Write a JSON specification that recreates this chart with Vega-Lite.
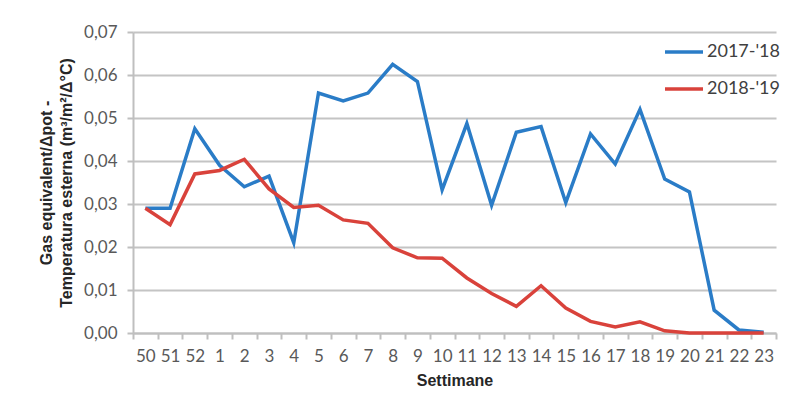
{
  "$schema": "https://vega.github.io/schema/vega-lite/v6.json",
  "autosize": {"type": "none"},
  "width": 643,
  "height": 301,
  "padding": {"left": 133, "top": 32, "right": 24, "bottom": 73},
  "background": "white",
  "data": {
    "values": [
      {"week": "50", "season": "2017-'18", "value": 0.0290},
      {"week": "51", "season": "2017-'18", "value": 0.0290},
      {"week": "52", "season": "2017-'18", "value": 0.0475},
      {"week": "1", "season": "2017-'18", "value": 0.0390},
      {"week": "2", "season": "2017-'18", "value": 0.0340},
      {"week": "3", "season": "2017-'18", "value": 0.0365},
      {"week": "4", "season": "2017-'18", "value": 0.0210},
      {"week": "5", "season": "2017-'18", "value": 0.0558},
      {"week": "6", "season": "2017-'18", "value": 0.0540},
      {"week": "7", "season": "2017-'18", "value": 0.0558},
      {"week": "8", "season": "2017-'18", "value": 0.0625},
      {"week": "9", "season": "2017-'18", "value": 0.0585},
      {"week": "10", "season": "2017-'18", "value": 0.0333},
      {"week": "11", "season": "2017-'18", "value": 0.0487},
      {"week": "12", "season": "2017-'18", "value": 0.0297},
      {"week": "13", "season": "2017-'18", "value": 0.0467},
      {"week": "14", "season": "2017-'18", "value": 0.0480},
      {"week": "15", "season": "2017-'18", "value": 0.0303},
      {"week": "16", "season": "2017-'18", "value": 0.0463},
      {"week": "17", "season": "2017-'18", "value": 0.0393},
      {"week": "18", "season": "2017-'18", "value": 0.0520},
      {"week": "19", "season": "2017-'18", "value": 0.0358},
      {"week": "20", "season": "2017-'18", "value": 0.0328},
      {"week": "21", "season": "2017-'18", "value": 0.0053},
      {"week": "22", "season": "2017-'18", "value": 0.0007},
      {"week": "23", "season": "2017-'18", "value": 0.0002},
      {"week": "50", "season": "2018-'19", "value": 0.0290},
      {"week": "51", "season": "2018-'19", "value": 0.0252},
      {"week": "52", "season": "2018-'19", "value": 0.0370},
      {"week": "1", "season": "2018-'19", "value": 0.0378},
      {"week": "2", "season": "2018-'19", "value": 0.0404},
      {"week": "3", "season": "2018-'19", "value": 0.0335},
      {"week": "4", "season": "2018-'19", "value": 0.0292},
      {"week": "5", "season": "2018-'19", "value": 0.0297},
      {"week": "6", "season": "2018-'19", "value": 0.0263},
      {"week": "7", "season": "2018-'19", "value": 0.0255},
      {"week": "8", "season": "2018-'19", "value": 0.0198},
      {"week": "9", "season": "2018-'19", "value": 0.0175},
      {"week": "10", "season": "2018-'19", "value": 0.0174},
      {"week": "11", "season": "2018-'19", "value": 0.0128},
      {"week": "12", "season": "2018-'19", "value": 0.0092},
      {"week": "13", "season": "2018-'19", "value": 0.0062},
      {"week": "14", "season": "2018-'19", "value": 0.0110},
      {"week": "15", "season": "2018-'19", "value": 0.0058},
      {"week": "16", "season": "2018-'19", "value": 0.0027},
      {"week": "17", "season": "2018-'19", "value": 0.0014},
      {"week": "18", "season": "2018-'19", "value": 0.0026},
      {"week": "19", "season": "2018-'19", "value": 0.0005},
      {"week": "20", "season": "2018-'19", "value": 0.0000},
      {"week": "21", "season": "2018-'19", "value": 0.0000},
      {"week": "22", "season": "2018-'19", "value": 0.0000},
      {"week": "23", "season": "2018-'19", "value": 0.0000}
    ]
  },
  "config": {
    "view": {"stroke": null},
    "axis": {
      "labelFont": "Lato",
      "labelFontSize": 17,
      "labelColor": "#595959",
      "titleFont": "Liberation Sans",
      "titleFontSize": 16,
      "titleFontWeight": "bold",
      "titleColor": "#262626",
      "domainColor": "#bfbfbf",
      "domainWidth": 2,
      "tickColor": "#bfbfbf",
      "tickWidth": 2,
      "tickSize": 6,
      "gridColor": "#c4c4c4",
      "gridWidth": 2
    }
  },
  "mark": {"type": "line", "strokeWidth": 3.5},
  "encoding": {
    "x": {
      "field": "week",
      "type": "ordinal",
      "sort": ["50", "51", "52", "1", "2", "3", "4", "5", "6", "7", "8", "9", "10", "11", "12", "13", "14", "15", "16", "17", "18", "19", "20", "21", "22", "23"],
      "scale": {"type": "band", "paddingInner": 0, "paddingOuter": 0},
      "title": "Settimane",
      "axis": {
        "labelAngle": 0,
        "tickBand": "extent",
        "grid": false,
        "labelPadding": 9,
        "titlePadding": 8
      }
    },
    "y": {
      "field": "value",
      "type": "quantitative",
      "scale": {"domain": [0, 0.07]},
      "title": ["Gas  equivalent/Δpot -", "Temperatura esterna (m³/m²/Δ°C)"],
      "axis": {
        "values": [0, 0.01, 0.02, 0.03, 0.04, 0.05, 0.06, 0.07],
        "labelExpr": "replace(format(datum.value, '.2f'), '.', ',')",
        "labelPadding": 10,
        "titlePadding": 9,
        "titleLineHeight": 20
      }
    },
    "color": {
      "field": "season",
      "type": "nominal",
      "scale": {"domain": ["2017-'18", "2018-'19"], "range": ["#2a7cc7", "#d9423b"]},
      "legend": {
        "title": null,
        "orient": "none",
        "legendX": 530,
        "legendY": -1,
        "symbolType": "stroke",
        "symbolSize": 1444,
        "symbolStrokeWidth": 3.5,
        "labelFont": "Lato",
        "labelFontSize": 18,
        "labelColor": "#404040",
        "labelOffset": 2,
        "rowPadding": 7
      }
    }
  }
}
